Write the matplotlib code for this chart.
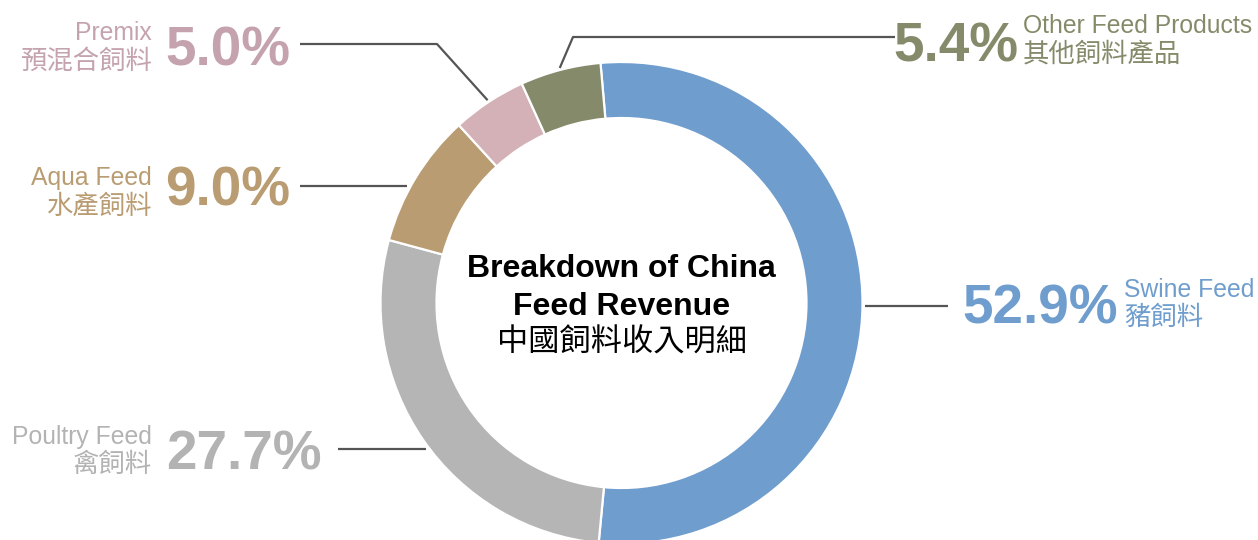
import numpy as np
import matplotlib.pyplot as plt

# data, clockwise from the top
labels_en = ['Swine Feed', 'Poultry Feed', 'Aqua Feed', 'Premix', 'Other Feed Products']
labels_zh = ['豬飼料', '禽飼料', '水產飼料', '預混合飼料', '其他飼料產品']
shares = [52.9, 27.7, 9.0, 5.0, 5.4]
colors = ['#6f9dcd', '#b4b5b4', '#b99c71', '#d4b0b7', '#858b6a']
text_colors = ['#6f9dcd', '#b3b3b3', '#b99c71', '#c4a2ae', '#858b6a']

W, H = 1258, 540
fig = plt.figure(figsize=(W / 100, H / 100), dpi=100)
ax = fig.add_axes([0, 0, 1, 1])


def Y(ypx):
    return H - ypx


cx, cy, R, ring = 621.5, Y(303), 241, 56
start = 95

ax.pie(shares, colors=colors, startangle=start, counterclock=False,
       center=(cx, cy), radius=R, frame=True,
       wedgeprops=dict(width=ring, edgecolor='white', linewidth=1.6))
ax.set_xlim(0, W)
ax.set_ylim(0, H)
ax.set_aspect('equal')
ax.axis('off')

# centre title
ax.text(cx, Y(277), 'Breakdown of China', ha='center', va='baseline',
        fontsize=23, fontweight='bold', family='Liberation Sans')
ax.text(cx, Y(315), 'Feed Revenue', ha='center', va='baseline',
        fontsize=23, fontweight='bold', family='Liberation Sans')
ax.text(cx, Y(352), '中國飼料收入明細', ha='center', va='baseline',
        fontsize=22.5, family='Noto Sans CJK TC')

# label layout (px from top): side, line y, line end x, elbow x,
# text anchor x, pct x, pct baseline, english baseline, chinese baseline
layout = {
    'Swine Feed': ('right', 306, 948, None, 1124, 962, 323, 297, 325),
    'Poultry Feed': ('left', 449, 338, None, 152, 166, 470, 444, 472),
    'Aqua Feed': ('left', 186, 300, None, 152, 165, 206, 185, 214),
    'Premix': ('left', 44, 300, 437, 152, 165, 65, 40, 69),
    'Other Feed Products': ('right', 37, 895, 573, 1023, 893, 62, 33, 62),
}

cum = np.cumsum([0] + shares)
for i, name in enumerate(labels_en):
    side, ly, lx, ex, tx, px, pb, eb, zb = layout[name]
    if ex is None:
        dy = Y(ly) - cy
        x0 = cx + np.sign(lx - cx) * np.sqrt(244 ** 2 - dy ** 2)
        xs, ys = [x0, lx], [Y(ly), Y(ly)]
    else:
        mid = np.deg2rad(start - 3.6 * (cum[i] + cum[i + 1]) / 2)
        x0 = cx + 243 * np.cos(mid)
        y0 = cy + 243 * np.sin(mid)
        xs, ys = [x0, ex, lx], [y0, Y(ly), Y(ly)]
    ax.plot(xs, ys, color='#555555', lw=1.6, solid_capstyle='butt')

    c = text_colors[i]
    ha = 'right' if side == 'left' else 'left'
    ax.text(px, Y(pb), f'{shares[i]:.1f}%', ha='left', va='baseline',
            fontsize=39.5, fontweight='bold', color=c, family='Liberation Sans')
    ax.text(tx, Y(eb), name, ha=ha, va='baseline',
            fontsize=17.8, color=c, family='Liberation Sans')
    ax.text(tx, Y(zb), labels_zh[i], ha=ha, va='baseline',
            fontsize=19, color=c, family='Noto Sans CJK TC')

fig.savefig('out.png', dpi=100)
